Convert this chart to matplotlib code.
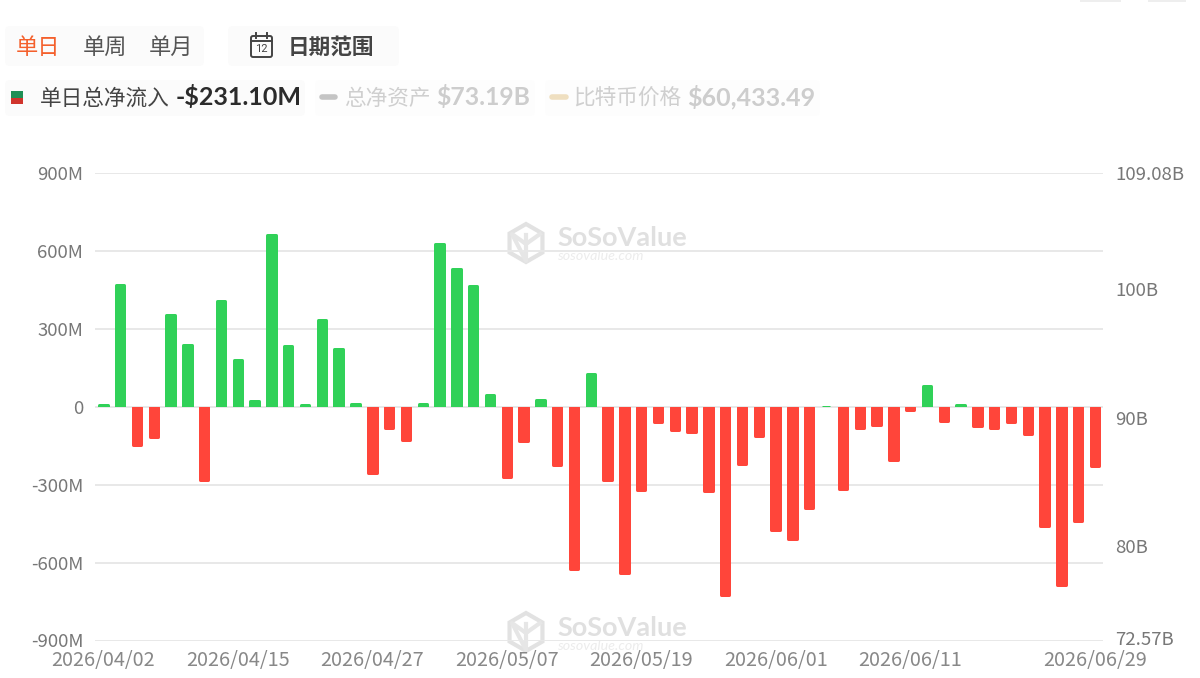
import numpy as np
import matplotlib
matplotlib.use("Agg")
import matplotlib.pyplot as plt
from matplotlib.patches import FancyBboxPatch, RegularPolygon, Rectangle
from matplotlib.transforms import Bbox, TransformedBbox, ScaledTranslation

plt.rcParams['font.family'] = ['Noto Sans CJK SC', 'DejaVu Sans']

# daily net inflow, $M
flows = [10, 472, -150, -118, 358, 240, -282, 410, 185, 27,
         665, 238, 12, 336, 224, 15, -255, -85, -130, 15,
         630, 533, 468, 48, -270, -135, 28, -225, -625, 130,
         -282, -640, -322, -62, -92, -98, -325, -725, -220, -115,
         -475, -512, -392, 3, -318, -85, -72, -205, -15, 85,
         -55, 10, -75, -85, -62, -105, -462, -688, -440, -231.1]

date_ticks = [0, 8, 16, 24, 32, 40, 48, 59]
date_labels = ['2026/04/02', '2026/04/15', '2026/04/27', '2026/05/07',
               '2026/05/19', '2026/06/01', '2026/06/11', '2026/06/29']
left_ticks = [-900, -600, -300, 0, 300, 600, 900]
left_labels = ['-900M', '-600M', '-300M', '0', '300M', '600M', '900M']
right_ticks = [72.57, 80, 90, 100, 109.08]
right_labels = ['72.57B', '80B', '90B', '100B', '109.08B']

GREEN = '#30d158'
RED = '#ff453a'
W, H = 1200, 678

fig = plt.figure(figsize=(12, 6.78), dpi=100, facecolor='white')

# page furniture is placed in pixels on a full-figure axes
bg = fig.add_axes([0, 0, 1, 1], zorder=0)
bg.set_xlim(0, W)
bg.set_ylim(H, 0)
bg.axis('off')


def panel(x0, y0, x1, y1, color='#fbfbfb'):
    bg.add_patch(FancyBboxPatch((x0, y0), x1 - x0, y1 - y0, boxstyle='round,pad=0,rounding_size=5',
                                fc=color, ec='none'))


def label(x, y, s, color, size, weight='normal', family=None, **kw):
    bg.text(x, y, s, color=color, fontsize=size, fontweight=weight, va='center',
            family=family or ['Noto Sans CJK SC', 'DejaVu Sans'], **kw)


def pill(x0, x1, y, color):
    bg.plot([x0, x1], [y, y], color=color, lw=4, solid_capstyle='round')


def watermark(yc, text_y):
    bg.add_patch(RegularPolygon((526, yc), 6, radius=19, fc='none', ec='#e2e2e2', lw=3))
    bg.plot([526, 526, 512, 526, 540], [yc - 8, yc + 18, yc - 9, yc + 1, yc - 9], color='#e6e6e6', lw=3)
    bg.text(557, text_y, 'SoSoValue', color='#e0e0e0', fontsize=19.5, fontweight='bold',
            family='Lato', va='center')
    bg.text(557, text_y + 18, 'sosovalue.com', color='#ececec', fontsize=10.3, style='italic',
            family='Lato', va='center')


# top right leftovers
bg.add_patch(Rectangle((1080, 0), 41, 1.5, fc='#eeeeee', ec='none'))
bg.add_patch(Rectangle((1148, 0), 38, 1.5, fc='#eeeeee', ec='none'))

# period switch and date range
panel(5, 26, 204, 66)
panel(228, 26, 399, 66)
label(16, 47, '单日', '#f4602c', 16)
label(83, 47, '单周', '#555555', 16)
label(149, 47, '单月', '#555555', 16)
label(288, 47, '日期范围', '#444444', 15.6, weight='bold')

# calendar icon
bg.add_patch(FancyBboxPatch((251, 36), 21, 21, boxstyle='round,pad=0,rounding_size=2',
                            fc='none', ec='#444444', lw=1.4))
bg.plot([251, 272], [41, 41], color='#444444', lw=1.4)
bg.plot([256, 256], [33, 38], color='#444444', lw=1.4)
bg.plot([267, 267], [33, 38], color='#444444', lw=1.4)
bg.text(261.5, 49, '12', color='#444444', fontsize=8, ha='center', va='center', family='Roboto')

# legend row
panel(5, 80, 305, 116)
panel(315, 80, 535, 116, '#fdfdfd')
panel(545, 80, 820, 116, '#fdfdfd')
bg.add_patch(Rectangle((11, 91), 12, 6.5, fc='#1f8f55', ec='none'))
bg.add_patch(Rectangle((11, 97.5), 12, 6.5, fc='#d0342c', ec='none'))
label(40, 99, '单日总净流入', '#444444', 15.6)
label(176, 97, '-$231.10M', '#2b2b2b', 18, weight='bold', family='Lato')
pill(322, 335, 97, '#c4c4c4')
label(344, 99, '总净资产', '#cfcfcf', 15.6)
label(436, 97, '$73.19B', '#cdcdcd', 17.8, weight='bold', family='Lato')
pill(552, 566, 97, '#efdfc0')
label(573, 99, '比特币价格', '#cfcfcf', 15.6)
label(687, 97, '$60,433.49', '#cdcdcd', 18, weight='bold', family='Lato')

watermark(243, 238)
watermark(632, 628)

# chart
ax = fig.add_axes([95 / W, 1 - 641 / H, (1103.4 - 95) / W, (641 - 173) / H], zorder=1)
ax.patch.set_alpha(0)
ax.set_xlim(-0.5, len(flows) - 0.5)
ax.set_ylim(-900, 900)

x = np.arange(len(flows))
flows_arr = np.array(flows)
colors = [GREEN if v >= 0 else RED for v in flows]
# a 3px round-joined edge gives the corners, so pull the bar in a little
px_per_m = (641 - 173) / 1800
inset = 0.7 / px_per_m
heights = np.sign(flows_arr) * np.maximum(np.abs(flows_arr) - inset, 0)
bars = ax.bar(x, heights, width=0.5, color=colors, edgecolor=colors, linewidth=2.16,
              joinstyle='round', zorder=3)
# keep the base of each bar flat on the zero line
for bar, v in zip(bars, flows):
    box = Bbox([[-1, 0], [len(flows), 900]]) if v >= 0 else Bbox([[-1, -900], [len(flows), 0]])
    bar.set_clip_box(TransformedBbox(box, ax.transData))

ax.set_yticks(left_ticks)
ax.set_yticklabels(left_labels)
ax.set_xticks(date_ticks)
ax.set_xticklabels(date_labels)
ax.grid(axis='y', color='#e8e8e8', lw=1.4, zorder=0)
ax.tick_params(axis='y', length=0, pad=8.5, labelsize=13.4, labelcolor='#777777')
ax.tick_params(axis='x', length=0, pad=6.5, labelsize=14.3, labelcolor='#888888')
for s in ax.spines.values():
    s.set_visible(False)

ax2 = ax.twinx()
ax2.set_ylim(72.57, 109.08)
ax2.set_yticks(right_ticks)
ax2.set_yticklabels(right_labels)
ax2.tick_params(axis='y', length=0, pad=8.5, labelsize=13.4, labelcolor='#777777')
for s in ax2.spines.values():
    s.set_visible(False)

# bottom labels sit a touch above their gridline
for lab, up in [(ax.get_yticklabels()[0], 1), (ax2.get_yticklabels()[0], 3)]:
    lab.set_transform(lab.get_transform() + ScaledTranslation(0, up / 100, fig.dpi_scale_trans))

fig.savefig('out.png', dpi=100)
